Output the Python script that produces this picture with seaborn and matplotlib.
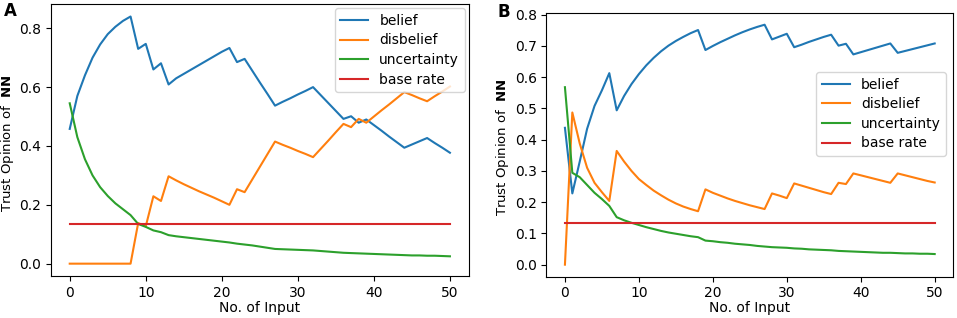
import numpy as np
import pandas as pd
import seaborn as sns
import matplotlib
matplotlib.use('Agg')
import matplotlib.pyplot as plt

# values, one entry per input step 0..50
steps = list(range(51))
series = ['belief', 'disbelief', 'uncertainty', 'base rate']

belief_a = [0.458, 0.57, 0.64, 0.70, 0.745, 0.78, 0.805, 0.825, 0.84, 0.730,
            0.747, 0.660, 0.681, 0.609, 0.63, 0.645, 0.66, 0.675, 0.69, 0.705,
            0.72, 0.733, 0.685, 0.696, 0.656, 0.616, 0.577, 0.537, 0.55, 0.562,
            0.575, 0.587, 0.600, 0.573, 0.546, 0.519, 0.492, 0.501, 0.479, 0.490,
            0.471, 0.452, 0.432, 0.413, 0.394, 0.405, 0.416, 0.427, 0.41, 0.394,
            0.377]
disbelief_a = [0, 0, 0, 0, 0, 0, 0, 0, 0, 0.138,
               0.127, 0.229, 0.213, 0.297, 0.283, 0.27, 0.258, 0.246, 0.235, 0.224,
               0.212, 0.200, 0.253, 0.243, 0.286, 0.329, 0.372, 0.415, 0.404, 0.394,
               0.383, 0.373, 0.362, 0.39, 0.418, 0.447, 0.475, 0.464, 0.492, 0.479,
               0.50, 0.521, 0.541, 0.562, 0.583, 0.573, 0.562, 0.552, 0.569, 0.585,
               0.602]
uncertainty_a = [0.545, 0.43, 0.355, 0.30, 0.26, 0.23, 0.205, 0.185, 0.165, 0.135,
                 0.125, 0.113, 0.107, 0.097, 0.093, 0.09, 0.087, 0.084, 0.081, 0.078,
                 0.075, 0.072, 0.068, 0.065, 0.062, 0.058, 0.054, 0.05, 0.049, 0.048,
                 0.047, 0.046, 0.045, 0.043, 0.041, 0.039, 0.037, 0.036, 0.035, 0.034,
                 0.033, 0.032, 0.031, 0.030, 0.029, 0.028, 0.028, 0.027, 0.027, 0.026,
                 0.025]
base_rate_a = 0.136

belief_b = [0.438, 0.228, 0.33, 0.435, 0.508, 0.558, 0.613, 0.494, 0.54, 0.578,
            0.61, 0.638, 0.662, 0.683, 0.701, 0.716, 0.729, 0.741, 0.751, 0.687,
            0.70, 0.712, 0.723, 0.734, 0.744, 0.753, 0.761, 0.768, 0.721, 0.73,
            0.739, 0.696, 0.704, 0.713, 0.721, 0.729, 0.736, 0.701, 0.707, 0.673,
            0.68, 0.687, 0.694, 0.701, 0.708, 0.678, 0.684, 0.69, 0.696, 0.702,
            0.708]
disbelief_b = [0, 0.487, 0.388, 0.31, 0.262, 0.232, 0.204, 0.364, 0.33, 0.30,
               0.274, 0.255, 0.237, 0.222, 0.208, 0.196, 0.186, 0.178, 0.171, 0.241,
               0.23, 0.221, 0.212, 0.204, 0.197, 0.19, 0.184, 0.178, 0.228, 0.221,
               0.213, 0.26, 0.253, 0.246, 0.239, 0.232, 0.226, 0.262, 0.258, 0.292,
               0.286, 0.28, 0.274, 0.268, 0.262, 0.292, 0.286, 0.28, 0.274, 0.268,
               0.263]
uncertainty_b = [0.568, 0.294, 0.28, 0.255, 0.23, 0.21, 0.188, 0.152, 0.142, 0.134,
                 0.127, 0.12, 0.114, 0.108, 0.103, 0.099, 0.095, 0.091, 0.088, 0.077,
                 0.075, 0.072, 0.07, 0.067, 0.065, 0.063, 0.06, 0.058, 0.056, 0.055,
                 0.054, 0.052, 0.051, 0.049, 0.048, 0.047, 0.046, 0.044, 0.043, 0.042,
                 0.041, 0.04, 0.039, 0.038, 0.038, 0.037, 0.036, 0.036, 0.035, 0.035,
                 0.034]
base_rate_b = 0.134


def to_long(b, d, u, br):
    df = pd.DataFrame({'x': steps, 'belief': b, 'disbelief': d,
                       'uncertainty': u, 'base rate': [br] * len(steps)})
    return df.melt(id_vars='x', var_name='kind', value_name='value')


plt.rcParams['font.family'] = ['DejaVu Sans']
plt.rcParams['font.size'] = 10

fig = plt.figure(figsize=(9.57, 3.18), dpi=100)
ax_a = fig.add_axes([0.053, 0.132, 0.437, 0.855])
ax_b = fig.add_axes([0.571, 0.130, 0.425, 0.830])

palette = dict(zip(series, sns.color_palette('tab10', 4)))

for ax, data in [(ax_a, to_long(belief_a, disbelief_a, uncertainty_a, base_rate_a)),
                 (ax_b, to_long(belief_b, disbelief_b, uncertainty_b, base_rate_b))]:
    sns.lineplot(ax=ax, data=data, x='x', y='value', hue='kind',
                 hue_order=series, palette=palette, linewidth=1.5)
    ax.set_xlabel('No. of Input', fontsize=10)
    ax.set_ylabel('Trust Opinion of  $\\bf{NN}$', fontsize=9.5)
    ax.set_xticks([0, 10, 20, 30, 40, 50])

ax_a.yaxis.set_label_coords(-0.084, 0.49)
ax_b.yaxis.set_label_coords(-0.088, 0.49)
ax_a.xaxis.set_label_coords(0.5, -0.092)
ax_b.xaxis.set_label_coords(0.5, -0.092)

h, l = ax_a.get_legend_handles_labels()
ax_a.legend(h, l, loc='upper right', fontsize=10, labelspacing=0.4,
            borderaxespad=0.3)
h, l = ax_b.get_legend_handles_labels()
ax_b.legend(h, l, loc='center right', bbox_to_anchor=(1, 0.616), fontsize=10,
            labelspacing=0.4)

ax_b.set_yticks(np.arange(0, 0.81, 0.1))

fig.text(0.004, 0.995, 'A', fontsize=12, fontweight='bold', va='top')
fig.text(0.520, 0.99, 'B', fontsize=12, fontweight='bold', va='top')

fig.savefig('out.png', dpi=100)
